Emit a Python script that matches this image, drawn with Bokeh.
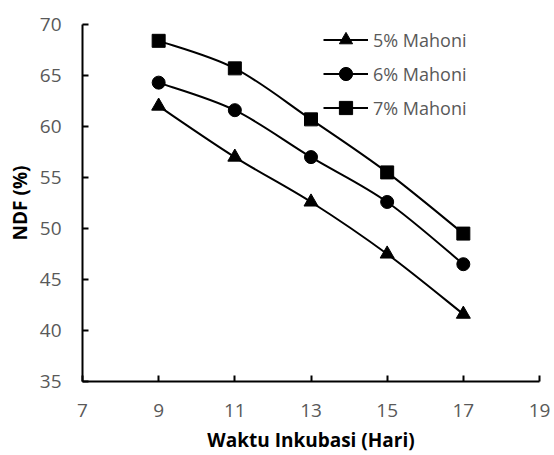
from bokeh.plotting import figure
from bokeh.models import Range1d, ColumnDataSource, Legend, LegendItem, FixedTicker
from bokeh.embed import file_html
from bokeh.resources import INLINE

# ---- data ----
days = [9, 11, 13, 15, 17]
ndf_5 = [62.0, 57.0, 52.6, 47.5, 41.6]
ndf_6 = [64.3, 61.6, 57.0, 52.6, 46.5]
ndf_7 = [68.4, 65.7, 60.7, 55.5, 49.5]
series_labels = ["5% Mahoni", "6% Mahoni", "7% Mahoni"]
series_markers = ["triangle", "circle", "square"]
x_ticks = [7, 9, 11, 13, 15, 17, 19]
y_ticks = [35, 40, 45, 50, 55, 60, 65, 70]

FONT = "Open Sans"
GRAY = "#595959"


def smooth_segments(xs, ys):
    """Excel-style smoothed line: cubic Bezier segments from Catmull-Rom control points."""
    n = len(xs)
    d = dict(x0=[], y0=[], x1=[], y1=[], cx0=[], cy0=[], cx1=[], cy1=[])
    for i in range(n - 1):
        xp, yp = (xs[i - 1], ys[i - 1]) if i > 0 else (xs[i], ys[i])
        xn, yn = (xs[i + 2], ys[i + 2]) if i + 2 < n else (xs[i + 1], ys[i + 1])
        d["x0"].append(xs[i]); d["y0"].append(ys[i])
        d["x1"].append(xs[i + 1]); d["y1"].append(ys[i + 1])
        d["cx0"].append(xs[i] + (xs[i + 1] - xp) / 6)
        d["cy0"].append(ys[i] + (ys[i + 1] - yp) / 6)
        d["cx1"].append(xs[i + 1] - (xn - xs[i]) / 6)
        d["cy1"].append(ys[i + 1] - (yn - ys[i]) / 6)
    return ColumnDataSource(d)


p = figure(width=554, height=455, output_backend="svg", toolbar_location=None,
           x_range=Range1d(7, 19), y_range=Range1d(35, 70),
           min_border_left=82, min_border_right=15, min_border_top=24, min_border_bottom=72)

p.grid.visible = False
p.outline_line_color = None
p.background_fill_color = "white"
p.border_fill_color = "white"

items = []
for ys, lab, mk in zip([ndf_5, ndf_6, ndf_7], series_labels, series_markers):
    src = smooth_segments(days, ys)
    br = p.bezier(x0="x0", y0="y0", x1="x1", y1="y1", cx0="cx0", cy0="cy0",
                  cx1="cx1", cy1="cy1", source=src, line_color="black", line_width=2)
    size = 14 if mk == "triangle" else 13
    sr = p.scatter(days, ys, marker=mk, size=size, fill_color="black", line_color="black")
    items.append(LegendItem(label=lab, renderers=[br, sr]))

legend = Legend(items=items, location=(241, 257), orientation="vertical",
                glyph_width=45, glyph_height=33, label_height=20, spacing=1,
                label_standoff=5, padding=0, margin=0,
                label_text_font=FONT, label_text_font_size="18px", label_text_color=GRAY,
                background_fill_alpha=0, border_line_color=None)
p.add_layout(legend)

for ax in (p.xaxis[0], p.yaxis[0]):
    ax.axis_line_color = "black"
    ax.axis_line_width = 2
    ax.major_tick_line_color = "black"
    ax.major_tick_line_width = 2
    ax.major_tick_in = 6
    ax.major_tick_out = 0
    ax.minor_tick_line_color = None
    ax.major_label_text_font = FONT
    ax.major_label_text_font_size = "19px"
    ax.major_label_text_color = GRAY
    ax.axis_label_text_font = FONT
    ax.axis_label_text_font_size = "19px"
    ax.axis_label_text_font_style = "bold"
    ax.axis_label_text_color = "black"

p.xaxis[0].ticker = FixedTicker(ticks=x_ticks)
p.yaxis[0].ticker = FixedTicker(ticks=y_ticks)
p.xaxis[0].axis_label = "Waktu Inkubasi (Hari)"
p.yaxis[0].axis_label = "NDF (%)"
p.xaxis[0].major_label_standoff = 22
p.xaxis[0].axis_label_standoff = 7
p.yaxis[0].major_label_standoff = 21
p.yaxis[0].axis_label_standoff = 4

open("out.html", "w").write(file_html(p, INLINE))
